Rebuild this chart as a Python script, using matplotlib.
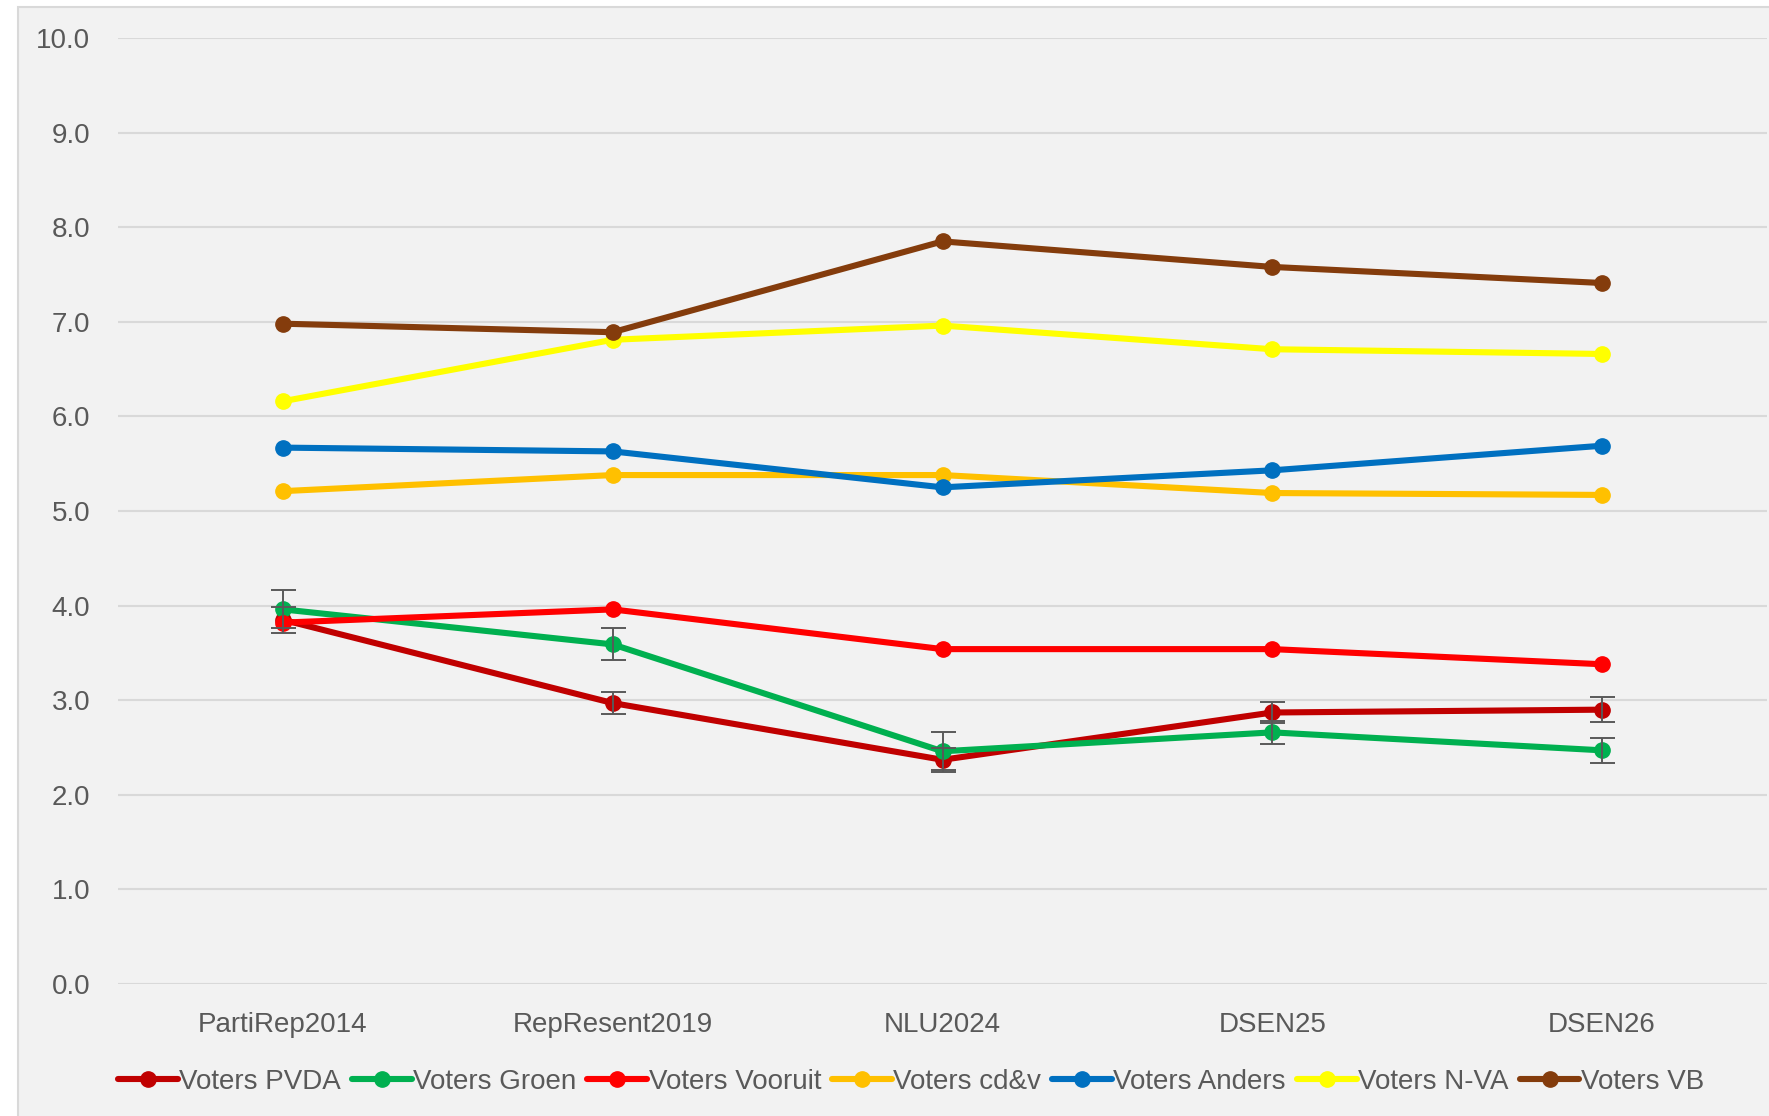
import matplotlib
matplotlib.use('Agg')
import matplotlib.pyplot as plt
from matplotlib.patches import Rectangle

# data
surveys = ['PartiRep2014', 'RepResent2019', 'NLU2024', 'DSEN25', 'DSEN26']
series_names = ['Voters PVDA', 'Voters Groen', 'Voters Vooruit', 'Voters cd&v',
                'Voters Anders', 'Voters N-VA', 'Voters VB']
pvda = [3.85, 2.97, 2.37, 2.87, 2.90]
groen = [3.96, 3.59, 2.46, 2.66, 2.47]
vooruit = [3.82, 3.96, 3.54, 3.54, 3.38]
cdv = [5.21, 5.38, 5.38, 5.19, 5.17]
anders = [5.67, 5.63, 5.25, 5.43, 5.69]
nva = [6.16, 6.81, 6.96, 6.71, 6.66]
vb = [6.98, 6.89, 7.85, 7.58, 7.41]
pvda_err = [0.14, 0.12, 0.13, 0.11, 0.13]
groen_err = [0.20, 0.17, 0.20, 0.12, 0.13]

colors = ['#C00000', '#00B050', '#FF0000', '#FFC000', '#0070C0', '#FFFF00', '#843C0C']
all_series = [pvda, groen, vooruit, cdv, anders, nva, vb]

plt.rcParams['font.family'] = ['Liberation Sans', 'DejaVu Sans']

fig = plt.figure(figsize=(17.69, 11.16), dpi=100)
fig.patch.set_facecolor('white')
# chart area background with border (cropped at right/bottom)
fig.patches.append(Rectangle((18 / 1769, -0.05), 1.1, 0.05 + 1109 / 1116,
                             transform=fig.transFigure, facecolor='#F2F2F2',
                             edgecolor='#D9D9D9', linewidth=1.5, zorder=-10))

ax = fig.add_axes([118 / 1769, 132 / 1116, 1649 / 1769, 946 / 1116])
ax.set_facecolor('none')
ax.set_zorder(1)

x = list(range(len(surveys)))
for name, vals, c in zip(series_names, all_series, colors):
    ax.plot(x, vals, color=c, lw=4.4, marker='o', markersize=11,
            label=name, zorder=3, solid_capstyle='round')

ax.errorbar(x, pvda, yerr=pvda_err, fmt='none', ecolor='#595959',
            elinewidth=1.4, capsize=9, capthick=1.4, zorder=4)
ax.errorbar(x, groen, yerr=groen_err, fmt='none', ecolor='#595959',
            elinewidth=1.4, capsize=9, capthick=1.4, zorder=4)

ax.set_xlim(-0.5, len(surveys) - 0.5)
ax.set_ylim(0, 10)
ax.set_yticks(range(0, 11))
ax.set_yticklabels([f'{v:.1f}' for v in range(0, 11)])
ax.set_xticks(x)
ax.set_xticklabels(surveys)
ax.tick_params(axis='both', length=0, labelsize=20, colors='#595959')
ax.tick_params(axis='y', pad=20)
ax.tick_params(axis='x', pad=20)
ax.grid(axis='y', color='#D9D9D9', lw=1.5, zorder=1)
ax.set_axisbelow(True)
for s in ax.spines.values():
    s.set_visible(False)

leg = ax.legend(loc='center', bbox_to_anchor=(911 / 1769, 34 / 1116),
                bbox_transform=fig.transFigure, ncol=7, frameon=False,
                fontsize=20, handlelength=2.15, handletextpad=0.05,
                columnspacing=0.4, borderpad=0)
for t in leg.get_texts():
    t.set_color('#595959')

fig.savefig('out.png', dpi=100)
